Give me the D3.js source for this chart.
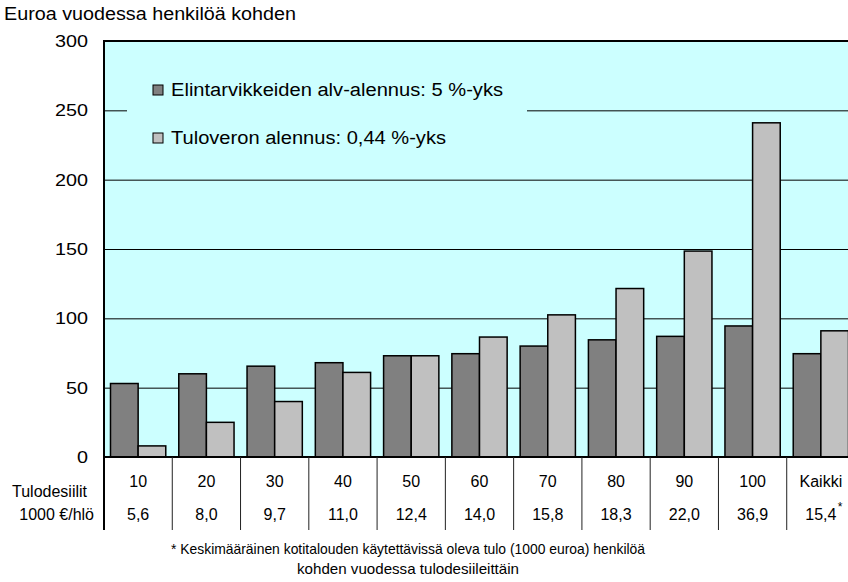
<!DOCTYPE html>
<meta charset="utf-8">
<style>
body { margin: 0; background: #fff; }
svg { display: block; font-family: "Liberation Sans", Arial, sans-serif; }
.grid line { stroke: #000; stroke-width: 1px; }
.grid .domain { display: none; }
.grid text { font-size: 17px; fill: #000; font-family: "Liberation Sans", Arial, sans-serif; }
.bar { stroke: #000; stroke-width: 1.5px; }
</style>
<body>
<svg width="848" height="582"></svg>
</body>
<script src="https://cdn.jsdelivr.net/npm/d3@7"></script>
<script>
var categories = ["10", "20", "30", "40", "50", "60", "70", "80", "90", "100", "Kaikki"];
var incomes = ["5,6", "8,0", "9,7", "11,0", "12,4", "14,0", "15,8", "18,3", "22,0", "36,9", "15,4"];
var alvValues = [53, 60, 65.5, 68, 73, 74.5, 80, 84.5, 87, 94.5, 74.5];
var taxValues = [8, 25, 40, 61, 73, 86.5, 102.5, 121.5, 148.5, 241, 91];
var seriesNames = ["Elintarvikkeiden alv-alennus: 5 %-yks", "Tuloveron alennus: 0,44 %-yks"];
var seriesColors = ["#808080", "#c0c0c0"];
var yTicks = [0, 50, 100, 150, 200, 250, 300];

var svg = d3.select("svg");

// plot area (right edge runs a bit past the picture, like the original)
var plotLeft = 104, plotRight = 855, plotTop = 41, plotBottom = 457;

svg.append("rect")
    .attr("x", plotLeft).attr("y", plotTop)
    .attr("width", plotRight - plotLeft).attr("height", plotBottom - plotTop)
    .attr("fill", "#ccffff");

var x = d3.scaleBand()
    .domain(categories)
    .range([plotLeft, plotRight]);

var x1 = d3.scaleBand()
    .domain([0, 1])
    .range([6.5, x.bandwidth() - 6.5]);

var y = d3.scaleLinear()
    .domain([0, 300])
    .range([plotBottom, plotTop]);

var yAxis = svg.append("g")
    .attr("class", "grid")
    .attr("transform", "translate(" + plotLeft + ",0)")
    .call(d3.axisLeft(y)
        .tickValues(yTicks)
        .tickSize(-(plotRight - plotLeft))
        .tickPadding(16)
    );

// the original text is drawn a little wide, so stretch it
yAxis.selectAll("text")
    .attr("textLength", function(d) { return String(d).length * 11; })
    .attr("lengthAdjust", "spacingAndGlyphs");

// legend sits on a cyan box that hides the grid line behind it
var legend = svg.append("g");
legend.append("rect")
    .attr("x", 127).attr("y", 62)
    .attr("width", 400).attr("height", 100)
    .attr("fill", "#ccffff");

var legendWidths = [332, 275];
var legendRows = legend.selectAll("g.row")
    .data(seriesNames)
    .enter().append("g")
    .attr("class", "row")
    .attr("transform", function(d, i) { return "translate(153," + (85 + i * 48) + ")"; });

legendRows.append("rect")
    .attr("width", 10).attr("height", 10)
    .attr("fill", function(d, i) { return seriesColors[i]; })
    .attr("stroke", "#000");

legendRows.append("text")
    .attr("x", 18).attr("y", 11)
    .attr("font-size", 18)
    .attr("textLength", function(d, i) { return legendWidths[i]; })
    .attr("lengthAdjust", "spacingAndGlyphs")
    .text(function(d) { return d; });

var rows = categories.map(function(c, i) { return {cat: c, vals: [alvValues[i], taxValues[i]]}; });

var groups = svg.append("g")
    .selectAll("g")
    .data(rows)
    .enter().append("g")
    .attr("transform", function(d) { return "translate(" + x(d.cat) + ",0)"; });

groups.selectAll("rect")
    .data(function(d) { return d.vals; })
    .enter().append("rect")
    .attr("class", "bar")
    .attr("x", function(d, i) { return x1(i); })
    .attr("width", x1.bandwidth())
    .attr("y", function(d) { return y(d); })
    .attr("height", function(d) { return y(0) - y(d); })
    .attr("fill", function(d, i) { return seriesColors[i]; });

// frame
svg.append("path")
    .attr("d", "M" + plotRight + "," + plotTop + "H" + plotLeft + "V530")
    .attr("fill", "none").attr("stroke", "#000").attr("stroke-width", 2);
svg.append("line")
    .attr("x1", plotLeft).attr("x2", plotRight)
    .attr("y1", plotBottom).attr("y2", plotBottom)
    .attr("stroke", "#000").attr("stroke-width", 2);

// table under the axis
svg.append("g")
    .selectAll("line")
    .data(categories.slice(1))
    .enter().append("line")
    .attr("x1", function(d) { return x(d); })
    .attr("x2", function(d) { return x(d); })
    .attr("y1", plotBottom).attr("y2", 530)
    .attr("stroke", "#222");

var table = svg.append("g").attr("font-size", 16).attr("text-anchor", "middle");

table.selectAll("text.cat")
    .data(categories)
    .enter().append("text")
    .attr("class", "cat")
    .attr("x", function(d) { return x(d) + x.bandwidth() / 2; })
    .attr("y", 487)
    .text(function(d) { return d; });

table.selectAll("text.inc")
    .data(incomes)
    .enter().append("text")
    .attr("class", "inc")
    .attr("x", function(d, i) { return x(categories[i]) + x.bandwidth() / 2; })
    .attr("y", 520)
    .text(function(d) { return d; });

svg.append("text")
    .attr("x", x("Kaikki") + x.bandwidth() / 2 + 17)
    .attr("y", 511)
    .attr("font-size", 12)
    .text("*");

svg.append("text")
    .attr("x", 12).attr("y", 497)
    .attr("font-size", 16)
    .text("Tulodesiilit");

svg.append("text")
    .attr("x", 94).attr("y", 520)
    .attr("font-size", 16)
    .attr("text-anchor", "end")
    .text("1000 €/hlö");

svg.append("text")
    .attr("x", 4).attr("y", 20)
    .attr("font-size", 17.5)
    .attr("textLength", 292)
    .attr("lengthAdjust", "spacingAndGlyphs")
    .text("Euroa vuodessa henkilöä kohden");

var notes = ["* Keskimääräinen kotitalouden käytettävissä oleva tulo (1000 euroa) henkilöä",
             "kohden vuodessa tulodesiileittäin"];
var noteWidths = [474, 222];
svg.selectAll("text.note")
    .data(notes)
    .enter().append("text")
    .attr("class", "note")
    .attr("x", 408)
    .attr("y", function(d, i) { return 554 + i * 20; })
    .attr("font-size", 15)
    .attr("text-anchor", "middle")
    .attr("textLength", function(d, i) { return noteWidths[i]; })
    .attr("lengthAdjust", "spacingAndGlyphs")
    .text(function(d) { return d; });
</script>
